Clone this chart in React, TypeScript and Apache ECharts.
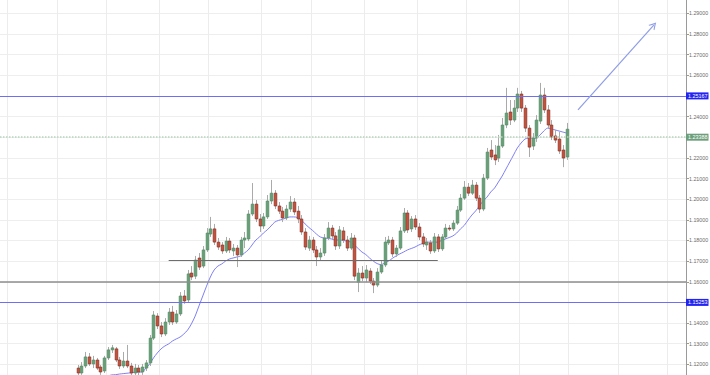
import React, { useEffect, useRef } from "react";
import * as echarts from "echarts";

// ---- data ----
const SLOT_COUNT = 181; // time slots across the plot width
const FIRST_SLOT = 20; // slot of the first visible candle
const slots = Array.from({ length: SLOT_COUNT }, (_, i) => String(i));
const vGridSlots = [2, 15, 28, 42, 55, 69, 82, 96, 110, 123, 137, 150, 163, 176];

const opens = [
  1.1182, 1.1158, 1.1192, 1.1236, 1.1202, 1.1221, 1.1187, 1.1168, 1.1231, 1.127,
  1.1275, 1.1221, 1.1192, 1.1216, 1.1192, 1.1158, 1.1182, 1.1163, 1.1182, 1.1207,
  1.1327, 1.1434, 1.1386, 1.1347, 1.1405, 1.1453, 1.1405, 1.1444, 1.1531, 1.1512,
  1.1642, 1.1627, 1.1715, 1.1676, 1.1754, 1.1831, 1.1856, 1.1792, 1.1778, 1.1749,
  1.1797, 1.1749, 1.1763, 1.173, 1.1802, 1.1807, 1.1928, 1.1976, 1.1904, 1.187,
  1.1914, 1.1991, 1.2029, 1.1967, 1.1942, 1.1909, 1.1952, 1.1986, 1.1942, 1.1904,
  1.1841, 1.1763, 1.1802, 1.1754, 1.172, 1.1739, 1.1812, 1.186, 1.1822, 1.1773,
  1.1846, 1.1802, 1.1763, 1.1812, 1.1598, 1.1642, 1.1618, 1.1652, 1.1603, 1.1584,
  1.1647, 1.1681, 1.1788, 1.1802, 1.1735, 1.1763, 1.1846, 1.1933, 1.1856, 1.1904,
  1.1865, 1.1817, 1.1778, 1.1788, 1.1749, 1.1817, 1.1759, 1.1817, 1.186, 1.1856,
  1.1884, 1.1947, 1.2005, 1.2058, 1.2029, 1.2068, 1.2005, 1.1952, 1.2102, 1.2238,
  1.2214, 1.2199, 1.2257, 1.2359, 1.2422, 1.2383, 1.2441, 1.2509, 1.2441, 1.2344,
  1.2257, 1.2296, 1.2378, 1.2504, 1.2432, 1.2359, 1.2306, 1.2291, 1.2238, 1.2204,
];
const closes = [
  1.1158, 1.1192, 1.1236, 1.1202, 1.1221, 1.1182, 1.1163, 1.1231, 1.127, 1.128,
  1.1221, 1.1192, 1.1216, 1.1192, 1.1158, 1.1182, 1.1163, 1.1187, 1.1207, 1.1327,
  1.1439, 1.1386, 1.1347, 1.1405, 1.1453, 1.1405, 1.1444, 1.1531, 1.1507, 1.1638,
  1.1623, 1.1705, 1.1671, 1.1754, 1.1836, 1.1856, 1.1792, 1.1768, 1.1749, 1.1797,
  1.1754, 1.1763, 1.173, 1.1802, 1.1812, 1.1928, 1.1976, 1.1904, 1.187, 1.1914,
  1.1991, 1.2029, 1.1967, 1.1942, 1.1909, 1.1952, 1.1986, 1.1938, 1.1904, 1.1841,
  1.1768, 1.1802, 1.1754, 1.172, 1.1739, 1.1812, 1.186, 1.1822, 1.1773, 1.1851,
  1.1802, 1.1763, 1.1812, 1.1627, 1.1642, 1.1618, 1.1657, 1.1603, 1.1584, 1.1647,
  1.1681, 1.1792, 1.1802, 1.1735, 1.1763, 1.1846, 1.1933, 1.1851, 1.1904, 1.1865,
  1.1817, 1.1783, 1.1792, 1.1749, 1.1817, 1.1759, 1.1817, 1.186, 1.1856, 1.1884,
  1.1947, 1.2005, 1.2058, 1.2029, 1.2068, 1.2005, 1.1952, 1.2102, 1.2228, 1.2204,
  1.219, 1.2257, 1.2359, 1.2417, 1.2383, 1.2441, 1.2509, 1.2441, 1.2344, 1.2252,
  1.2296, 1.2383, 1.2504, 1.2432, 1.2359, 1.2301, 1.2286, 1.2233, 1.2199, 1.23388,
];
const highs = [
  1.1197, 1.1211, 1.126, 1.1255, 1.1241, 1.1231, 1.1197, 1.1241, 1.1284, 1.1294,
  1.1284, 1.1236, 1.126, 1.1294, 1.1207, 1.1202, 1.1197, 1.1202, 1.1221, 1.1342,
  1.1458, 1.1448, 1.1405, 1.1424, 1.1473, 1.1483, 1.1463, 1.155, 1.156, 1.1657,
  1.1676, 1.1725, 1.1739, 1.1773, 1.186, 1.1914, 1.188, 1.1812, 1.1792, 1.1817,
  1.1812, 1.1783, 1.1778, 1.1817, 1.1841, 1.1947, 1.2078, 1.1996, 1.1928, 1.1933,
  1.202, 1.2093, 1.2044, 1.1986, 1.1962, 1.1972, 1.2015, 1.2005, 1.1967, 1.1923,
  1.186, 1.1822, 1.1817, 1.1773, 1.1763, 1.1831, 1.1889, 1.1875, 1.1841, 1.187,
  1.1865, 1.1822, 1.1836, 1.1827, 1.1666, 1.1676, 1.1681, 1.1666, 1.1618, 1.1666,
  1.1705, 1.1817, 1.1822, 1.1817, 1.1778, 1.1865, 1.1957, 1.1947, 1.1918, 1.1923,
  1.1884, 1.1836, 1.1812, 1.1802, 1.1836, 1.1831, 1.1831, 1.188, 1.1875, 1.1899,
  1.1967, 1.2025, 1.2088, 1.2078, 1.2093, 1.2083, 1.202, 1.2122, 1.2248, 1.2286,
  1.2262, 1.2311, 1.2393, 1.2539, 1.248, 1.248, 1.2539, 1.2524, 1.2456, 1.2359,
  1.232, 1.2407, 1.2563, 1.2539, 1.2456, 1.2383, 1.2335, 1.2325, 1.2262, 1.2369,
];
const lows = [
  1.1144, 1.1149, 1.1182, 1.1192, 1.1182, 1.1173, 1.1149, 1.1158, 1.1221, 1.1255,
  1.1211, 1.1178, 1.1182, 1.1182, 1.1144, 1.1144, 1.1144, 1.1149, 1.1168, 1.1192,
  1.1318, 1.1371, 1.1332, 1.1337, 1.1391, 1.1391, 1.1396, 1.1434, 1.1493, 1.1502,
  1.1608, 1.1613, 1.1657, 1.1666, 1.1744, 1.1817, 1.1778, 1.1754, 1.1735, 1.1739,
  1.1739, 1.1725, 1.1671, 1.172, 1.1763, 1.1797, 1.1918, 1.1889, 1.1841, 1.1856,
  1.1904, 1.1976, 1.1952, 1.1928, 1.1889, 1.1899, 1.1938, 1.1923, 1.1884, 1.1827,
  1.1754, 1.1749, 1.1739, 1.1676, 1.1705, 1.1725, 1.1802, 1.1807, 1.1754, 1.1759,
  1.1788, 1.1749, 1.1754, 1.1608, 1.155, 1.1603, 1.1598, 1.1589, 1.1545, 1.1574,
  1.1638, 1.1671, 1.1778, 1.172, 1.172, 1.1754, 1.1836, 1.1836, 1.1841, 1.1851,
  1.1802, 1.1768, 1.1754, 1.1735, 1.1739, 1.1744, 1.1749, 1.1807, 1.1846, 1.1846,
  1.1875, 1.1938, 1.1996, 1.2015, 1.202, 1.1991, 1.1933, 1.1942, 1.2093, 1.219,
  1.2165, 1.218, 1.2248, 1.2344, 1.2359, 1.2373, 1.2422, 1.2422, 1.2325, 1.2204,
  1.2238, 1.2277, 1.2364, 1.2417, 1.2344, 1.2286, 1.2272, 1.2219, 1.2155, 1.219,
];
const maValues = [
  1.1095, 1.11, 1.1105, 1.1114, 1.1119, 1.1124, 1.1134, 1.1139, 1.1144, 1.1149,
  1.115, 1.1153, 1.1155, 1.1157, 1.1159, 1.1162, 1.1162, 1.1163, 1.1182, 1.1202,
  1.1231, 1.1255, 1.1275, 1.1289, 1.1299, 1.1313, 1.1323, 1.1332, 1.1347, 1.1366,
  1.1396, 1.1434, 1.1483, 1.1531, 1.1579, 1.1623, 1.1657, 1.1676, 1.1686, 1.17,
  1.171, 1.1715, 1.172, 1.1725, 1.1739, 1.1754, 1.1778, 1.1802, 1.1817, 1.1836,
  1.1851, 1.187, 1.1889, 1.1897, 1.1902, 1.1909, 1.1914, 1.1914, 1.1911, 1.1899,
  1.188, 1.1863, 1.1848, 1.1831, 1.1817, 1.1812, 1.181, 1.1807, 1.1802, 1.1802,
  1.18, 1.1797, 1.1792, 1.1778, 1.1761, 1.1744, 1.1732, 1.1715, 1.17, 1.1688,
  1.1683, 1.1691, 1.17, 1.1713, 1.1725, 1.1735, 1.1744, 1.1754, 1.1761, 1.1768,
  1.1778, 1.1785, 1.1792, 1.1792, 1.1792, 1.1792, 1.18, 1.1807, 1.1814, 1.1822,
  1.1836, 1.1856, 1.1873, 1.1899, 1.1923, 1.1943, 1.1967, 1.1991, 1.201, 1.2035,
  1.2054, 1.2083, 1.2112, 1.2146, 1.218, 1.2214, 1.2248, 1.2272, 1.2291, 1.2296,
  1.2296, 1.2296, 1.2311, 1.233, 1.2344, 1.234, 1.2335, 1.233, 1.2325, 1.232,
];

// price levels drawn on the chart
const resistanceLevel = 1.25167;
const lastPriceLevel = 1.23388;
const greyLevel = 1.16;
const supportLevel = 1.15253;
const rangeLevel = 1.1703;
const rangeFromSlot = 44;
const rangeToSlot = 115;
const arrowFrom = [152, 1.2432];
const arrowTo = [172, 1.2843];

const FONT = "'Liberation Sans', Arial, sans-serif";

function priceLabel(text: string, bg: string) {
  return {
    show: true,
    position: "end",
    distance: 0,
    formatter: text,
    color: "#ffffff",
    backgroundColor: bg,
    fontSize: 5.4,
    lineHeight: 6,
    fontFamily: FONT,
    padding: [0.5, 1, 0.5, 2],
  };
}

export default function App() {
  const ref = useRef<HTMLDivElement>(null);

  useEffect(() => {
    if (!ref.current) return;
    const chart = echarts.init(ref.current, null, { renderer: "svg" });

    const candleData = opens.map((o, i) => [i + FIRST_SLOT, o, closes[i], lows[i], highs[i]]);
    const maData = maValues.map((v, i) => [i + FIRST_SLOT, v]);

    const option: any = {
      animation: false,
      backgroundColor: "#ffffff",
      textStyle: { fontFamily: FONT },
      grid: {
        left: 0,
        right: 24,
        top: -7.35,
        bottom: -10,
        containLabel: false,
        outerBoundsMode: "none",
      },
      xAxis: {
        type: "category",
        data: slots,
        boundaryGap: true,
        axisLine: { show: false },
        axisTick: { show: false },
        axisLabel: { show: false },
        splitLine: {
          show: true,
          interval: (i: number) => vGridSlots.includes(i),
          lineStyle: { color: "#ececec", width: 1 },
        },
      },
      yAxis: {
        type: "value",
        position: "right",
        min: 1.11,
        max: 1.3,
        interval: 0.01,
        scale: true,
        axisLine: { show: true, lineStyle: { color: "#9a9a9a", width: 1 } },
        axisTick: { show: true, length: 3, lineStyle: { color: "#9a9a9a" } },
        axisLabel: {
          margin: 3,
          fontSize: 5.3,
          color: "#6a6a6a",
          fontFamily: FONT,
          showMinLabel: false,
          showMaxLabel: false,
          formatter: (v: number) => v.toFixed(5),
        },
        splitLine: { show: true, lineStyle: { color: "#eeeeee", width: 1 } },
      },
      series: [
        {
          type: "line",
          data: maData,
          symbol: "none",
          smooth: 0.3,
          z: 3,
          lineStyle: { color: "#7f80f5", width: 1 },
          markLine: {
            silent: true,
            symbol: "none",
            animation: false,
            label: { show: false },
            data: [
              {
                yAxis: resistanceLevel,
                lineStyle: { color: "#6f6ff2", width: 1, type: "solid" },
                label: priceLabel("1.25167", "#2323f2"),
              },
              {
                yAxis: lastPriceLevel,
                lineStyle: { color: "#b8d5bd", width: 1.5, type: "dotted" },
                label: priceLabel("1.23388", "#6e9f7c"),
              },
              {
                yAxis: greyLevel,
                lineStyle: { color: "#8e8e8e", width: 1.5, type: "solid" },
              },
              {
                yAxis: supportLevel,
                lineStyle: { color: "#6f6ff2", width: 1, type: "solid" },
                label: priceLabel("1.15253", "#2323f2"),
              },
              [
                {
                  coord: [rangeFromSlot, rangeLevel],
                  lineStyle: { color: "#6e6e6e", width: 1.2, type: "solid" },
                },
                { coord: [rangeToSlot, rangeLevel] },
              ],
              [
                {
                  coord: arrowFrom,
                  symbol: "none",
                  lineStyle: { color: "#8e9de6", width: 1.2, type: "solid" },
                },
                {
                  coord: arrowTo,
                  symbol: "path://M0,10L5,0L10,10L8.4,10L5,3.2L1.6,10Z",
                  symbolSize: [8, 7],
                },
              ],
            ],
          },
        },
        {
          type: "custom",
          data: candleData,
          encode: { x: 0, y: [1, 2, 3, 4] },
          clip: true,
          z: 4,
          renderItem: (params: any, api: any) => {
            const x = api.value(0);
            const o = api.value(1);
            const c = api.value(2);
            const pO = api.coord([x, o]);
            const pC = api.coord([x, c]);
            const pL = api.coord([x, api.value(3)]);
            const pH = api.coord([x, api.value(4)]);
            const w = api.size([1, 0])[0] * 0.72;
            const up = c >= o;
            const top = Math.min(pO[1], pC[1]);
            const bh = Math.max(Math.abs(pO[1] - pC[1]), 1);
            const cx = Math.round(pO[0]) + 0.5;
            return {
              type: "group",
              children: [
                {
                  type: "line",
                  shape: { x1: cx, y1: pH[1], x2: cx, y2: pL[1] },
                  style: { stroke: "#aaaaaa", lineWidth: 1 },
                },
                {
                  type: "rect",
                  shape: { x: cx - w / 2, y: top, width: w, height: bh },
                  style: {
                    fill: up ? "#67a078" : "#c84f3a",
                    stroke: up ? "#4f8760" : "#7c2c20",
                    lineWidth: 0.6,
                  },
                },
              ],
            };
          },
        },
      ],
    };

    chart.setOption(option);
    return () => chart.dispose();
  }, []);

  return (
    <div
      ref={ref}
      style={{ position: "fixed", left: 0, top: 0, width: 710, height: 375, background: "#ffffff" }}
    />
  );
}
